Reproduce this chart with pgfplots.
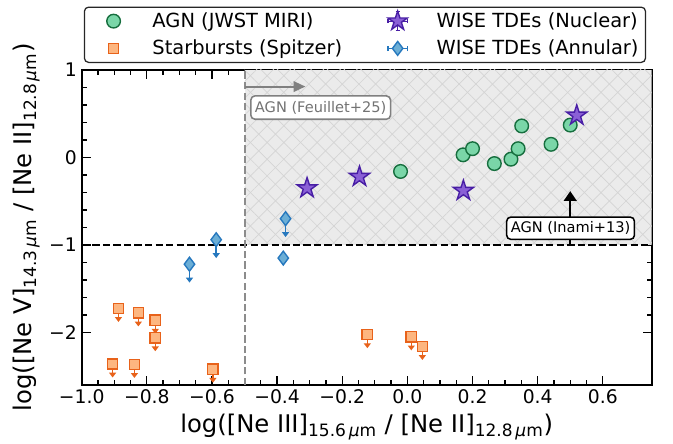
\documentclass[border=0pt]{standalone}
\usepackage{fontspec}
\setmainfont{DejaVu Sans}[ItalicFont={DejaVu Sans Oblique}]
\usepackage{pgfplots}
\usepackage{pgfplotstable}
\pgfplotsset{compat=1.18}
\usetikzlibrary{arrows.meta,patterns.meta}

\definecolor{agnfill}{RGB}{122,214,168}
\definecolor{agnedge}{RGB}{22,110,62}
\definecolor{sbfill}{RGB}{253,182,128}
\definecolor{sbedge}{RGB}{232,98,26}
\definecolor{anfill}{RGB}{107,174,214}
\definecolor{anedge}{RGB}{38,120,190}
\definecolor{nufill}{RGB}{138,96,214}
\definecolor{nuedge}{RGB}{72,30,165}
\definecolor{regiongray}{RGB}{235,235,235}
\definecolor{hatchgray}{RGB}{212,212,212}

\pgfdeclareplotmark{fstar}{%
  \pgfpathmoveto{\pgfpointpolar{90}{\pgfplotmarksize}}%
  \pgfpathlineto{\pgfpointpolar{126}{0.382*\pgfplotmarksize}}%
  \pgfpathlineto{\pgfpointpolar{162}{\pgfplotmarksize}}%
  \pgfpathlineto{\pgfpointpolar{198}{0.382*\pgfplotmarksize}}%
  \pgfpathlineto{\pgfpointpolar{234}{\pgfplotmarksize}}%
  \pgfpathlineto{\pgfpointpolar{270}{0.382*\pgfplotmarksize}}%
  \pgfpathlineto{\pgfpointpolar{306}{\pgfplotmarksize}}%
  \pgfpathlineto{\pgfpointpolar{342}{0.382*\pgfplotmarksize}}%
  \pgfpathlineto{\pgfpointpolar{18}{\pgfplotmarksize}}%
  \pgfpathlineto{\pgfpointpolar{54}{0.382*\pgfplotmarksize}}%
  \pgfpathclose
  \pgfusepathqfillstroke
}

\pgfplotstableread{
x y
-0.021 -0.16
0.171 0.03
0.200 0.10
0.267 -0.07
0.318 -0.02
0.340 0.10
0.351 0.36
0.441 0.15
0.500 0.37
}\agndata

\pgfplotstableread{
x y
-0.308 -0.35
-0.147 -0.22
0.172 -0.38
0.520 0.48
}\nucdata

\pgfplotstableread{
x y
-0.669 -1.22
-0.587 -0.94
-0.374 -0.70
}\annlim

\pgfplotstableread{
x y
-0.381 -1.15
}\anndet

\pgfplotstableread{
x y
-0.887 -1.725
-0.826 -1.776
-0.774 -1.86
-0.774 -2.06
-0.905 -2.36
-0.838 -2.365
-0.597 -2.42
-0.123 -2.025
0.012 -2.05
0.046 -2.16
}\sbdata

\begin{document}
\begin{tikzpicture}
\path[use as bounding box] (0,0) rectangle (484.56pt,318.96pt);
\begin{axis}[
  at={(58.8pt,41.8pt)}, anchor=south west,
  scale only axis, width=410.4pt, height=226.8pt,
  xmin=-1, xmax=0.75, ymin=-2.6, ymax=1,
  xtick={-1,-0.8,-0.6,-0.4,-0.2,0,0.2,0.4,0.6},
  xticklabels={−1.0,−0.8,−0.6,−0.4,−0.2,0.0,0.2,0.4,0.6},
  ytick={-2,-1,0,1}, yticklabels={−2,−1,0,1},
  minor x tick num=3, minor y tick num=4,
  tick align=inside,
  major tick length=6.5pt, minor tick length=3.6pt,
  every tick/.style={black, line width=0.9pt},
  axis line style={line width=1.3pt},
  tick label style={font=\fontsize{13.5}{16}\selectfont},
  label style={font=\fontsize{17.5}{20}\selectfont},
  xlabel={log([Ne III]\textsubscript{15.6\,{\itshape μ}m} / [Ne II]\textsubscript{12.8\,{\itshape μ}m})},
  ylabel={log([Ne V]\textsubscript{14.3\,{\itshape μ}m} / [Ne II]\textsubscript{12.8\,{\itshape μ}m})},
  legend columns=2,
  legend cell align=left,
  legend style={at={(0.497,1.022)}, anchor=south, draw=black!85, rounded corners=3pt,
    line width=0.9pt, font=\fontsize{14}{16}\selectfont,
    inner xsep=3pt, inner ysep=2pt, row sep=3.5pt,
    /tikz/every odd column/.append style={column sep=8pt},
    /tikz/every even column/.append style={column sep=20pt}},
]
% shaded AGN region
\fill[regiongray] (axis cs:-0.5,-1) rectangle (axis cs:0.75,1);
\fill[pattern={Lines[angle=45,distance=8.5pt,line width=0.5pt]}, pattern color=hatchgray] (axis cs:-0.5,-1) rectangle (axis cs:0.75,1);
\fill[pattern={Lines[angle=-45,distance=8.5pt,line width=0.5pt]}, pattern color=hatchgray] (axis cs:-0.5,-1) rectangle (axis cs:0.75,1);

% dividing lines
\draw[black, line width=1.45pt, dash pattern=on 5.3pt off 2.3pt] (axis cs:-1,-1) -- (axis cs:0.75,-1);
\draw[black!45, line width=1.45pt, dash pattern=on 5.3pt off 2.3pt] (axis cs:-0.5,-2.6) -- (axis cs:-0.5,1);

% Feuillet annotation
\draw[black!50, line width=1.5pt, -{Triangle[width=7.5pt,length=8.5pt]}] (axis cs:-0.5,0.81) -- (axis cs:-0.313,0.81);
\node[draw=black!50, fill=white, rounded corners=3pt, line width=1.1pt, text=black!55,
  font=\fontsize{10.5}{12}\selectfont, anchor=west, inner xsep=3pt, minimum height=16.8pt]
  at (axis cs:-0.483,0.57) {AGN (Feuillet+25)};

% Inami annotation
\draw[black, line width=1.8pt, -{Triangle[width=9pt,length=7pt]}] (axis cs:0.5,-1) -- (axis cs:0.5,-0.385);
\node[draw=black, fill=white, rounded corners=3pt, line width=1.1pt, text=black,
  font=\fontsize{10.5}{12}\selectfont, inner xsep=3pt, minimum height=16pt]
  at (axis cs:0.501,-0.809) {AGN (Inami+13)};

% upper limit arrows
\addplot[forget plot, sbedge, line width=1pt, no markers, quiver={u=0,v=-0.155},
  -{Triangle[width=5pt,length=3.5pt]}] table[x=x,y=y] {\sbdata};
\addplot[forget plot, anedge, line width=1pt, no markers, quiver={u=0,v=-0.21},
  -{Triangle[width=5pt,length=3.5pt]}] table[x=x,y=y] {\annlim};

% data
\addplot[forget plot, only marks, mark=square*, mark size=3.7pt, draw=sbedge, fill=sbfill, line width=1pt] table[x=x,y=y] {\sbdata};
\addplot[forget plot, only marks, mark=diamond*, mark size=5pt, draw=anedge, fill=anfill, line width=1pt] table[x=x,y=y] {\annlim};
\addplot[forget plot, only marks, mark=diamond*, mark size=5pt, draw=anedge, fill=anfill, line width=1pt] table[x=x,y=y] {\anndet};
\addplot[forget plot, only marks, mark=*, mark size=4.9pt, draw=agnedge, fill=agnfill, line width=1pt] table[x=x,y=y] {\agndata};
\addplot[forget plot, only marks, mark=fstar, mark size=7.6pt, draw=nuedge, fill=nufill, line width=1pt] table[x=x,y=y] {\nucdata};

% legend
\addlegendimage{legend image code/.code={%
  \path[draw=none, fill=none] (-18pt,-8pt) rectangle (18pt,8pt);
  \draw[draw=agnedge, fill=agnfill, line width=1pt] plot[mark=*, mark size=4.9pt] coordinates {(0,0)};
}}
\addlegendentry{AGN (JWST MIRI)}
\addlegendimage{legend image code/.code={%
  \path[draw=none, fill=none] (-18pt,-8pt) rectangle (18pt,8pt);
  \draw[nuedge, line width=0.9pt] (-7pt,0) -- (7pt,0);
  \draw[nuedge, line width=0.9pt] (0,-7pt) -- (0,7pt);
  \draw[nuedge, line width=0.9pt] (-7pt,-1.5pt) -- (-7pt,1.5pt);
  \draw[nuedge, line width=0.9pt] (7pt,-1.5pt) -- (7pt,1.5pt);
  \draw[nuedge, line width=0.9pt] (-1.5pt,-7pt) -- (1.5pt,-7pt);
  \draw[nuedge, line width=0.9pt] (-1.5pt,7pt) -- (1.5pt,7pt);
  \draw[draw=nuedge, fill=nufill, line width=1pt] plot[mark=fstar, mark size=7.3pt] coordinates {(0,0)};
}}
\addlegendentry{WISE TDEs (Nuclear)}
\addlegendimage{legend image code/.code={%
  \path[draw=none, fill=none] (-18pt,-8pt) rectangle (18pt,8pt);
  \draw[draw=sbedge, fill=sbfill, line width=1pt] plot[mark=square*, mark size=3.5pt] coordinates {(0,0)};
}}
\addlegendentry{Starbursts (Spitzer)}
\addlegendimage{legend image code/.code={%
  \path[draw=none, fill=none] (-18pt,-8pt) rectangle (18pt,8pt);
  \draw[anedge, line width=0.9pt] (-7pt,0) -- (7pt,0);
  \draw[anedge, line width=0.9pt] (-7pt,-2pt) -- (-7pt,2pt);
  \draw[anedge, line width=0.9pt] (7pt,-2pt) -- (7pt,2pt);
  \draw[draw=anedge, fill=anfill, line width=1pt] plot[mark=diamond*, mark size=5pt] coordinates {(0,0)};
}}
\addlegendentry{WISE TDEs (Annular)}
\end{axis}
\end{tikzpicture}
\end{document}
